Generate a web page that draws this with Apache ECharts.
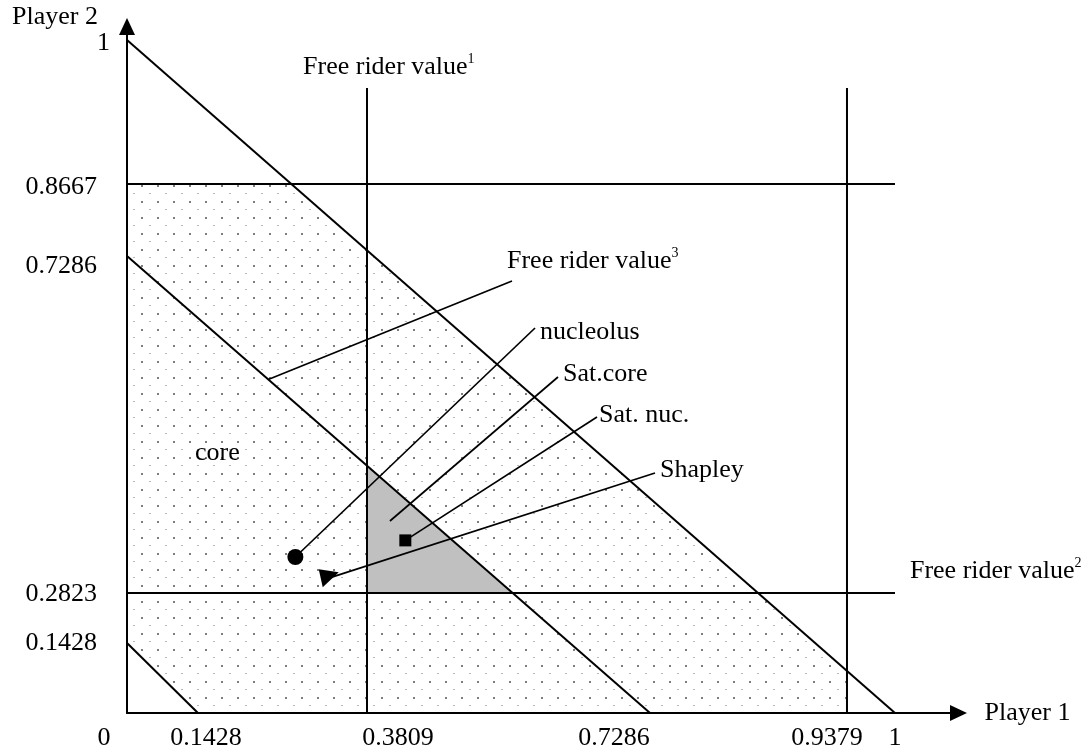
<!DOCTYPE html>
<html><head><meta charset="utf-8">
<script src="https://cdn.jsdelivr.net/npm/echarts@6/dist/echarts.min.js"></script>
<style>html,body{margin:0;padding:0;background:#fff}#c{width:1092px;height:753px}</style>
</head><body><div id="c"></div>
<script>
// ---------------- DATA (game values) ----------------
const xTicks = [0, 0.1428, 0.3809, 0.7286, 0.9379, 1];
const xTickLabels = ['0', '0.1428', '0.3809', '0.7286', '0.9379', '1'];
const yTicks = [0, 0.1428, 0.2823, 0.7286, 0.8667, 1];
const yTickLabels = ['', '0.1428', '0.2823', '0.7286', '0.8667', '1'];
const freeRider1 = 0.3809;     // x = 0.3809  (Free rider value 1)
const freeRider2 = 0.2823;     // y = 0.2823  (Free rider value 2)
const freeRider3 = 0.7286;     // x + y = 0.7286 (Free rider value 3)
const efficiency = 1;          // x + y = 1
const lowerSum = 0.1428;       // x + y = 0.1428
const upperX = 0.9379;         // x = 0.9379
const upperY = 0.8667;         // y = 0.8667
const nucleolus = [0.28, 0.33];
const satNucleolus = [0.428, 0.352];
const shapley = [0.327, 0.302];

// ---------------- LAYOUT (schematic, not-to-scale axis positions) ----------------
const X_POS = [0, 0.0924, 0.3125, 0.681, 0.9375, 1];
const Y_POS = [0, 0.104, 0.1783, 0.679, 0.786, 1];
const VTOP = 0.9287;            // top of the vertical free-rider lines (schematic)
const XMAX = 1.0827, YMAX = 1.0201;
const FONT = 'Liberation Serif';

function interp(ks, ps, v) {
  for (let i = 0; i < ks.length - 1; i++) {
    if (v <= ks[i + 1] || i === ks.length - 2) {
      const t = (v - ks[i]) / (ks[i + 1] - ks[i]);
      return ps[i] + t * (ps[i + 1] - ps[i]);
    }
  }
}
const sx = v => interp(xTicks, X_POS, v);
const sy = v => interp(yTicks, Y_POS, v);
const S = p => [sx(p[0]), sy(p[1])];
function cross(a, b) {
  const [p1, p2] = a, [p3, p4] = b;
  const d = (p1[0] - p2[0]) * (p3[1] - p4[1]) - (p1[1] - p2[1]) * (p3[0] - p4[0]);
  const t = ((p1[0] - p3[0]) * (p3[1] - p4[1]) - (p1[1] - p3[1]) * (p3[0] - p4[0])) / d;
  return [p1[0] + t * (p2[0] - p1[0]), p1[1] + t * (p2[1] - p1[1])];
}
const lerp = (seg, t) => [seg[0][0] + t * (seg[1][0] - seg[0][0]), seg[0][1] + t * (seg[1][1] - seg[0][1])];

// lines (schematic coordinates, built from the real values)
const Ldiag = [S([0, efficiency]), S([efficiency, 0])];
const L3 = [S([0, freeRider3]), S([freeRider3, 0])];
const Llow = [S([0, lowerSum]), S([lowerSum, 0])];
const V1 = [[sx(freeRider1), 0], [sx(freeRider1), VTOP]];
const V2 = [[sx(upperX), 0], [sx(upperX), VTOP]];
const H2 = [S([0, freeRider2]), S([1, freeRider2])];
const HU = [S([0, upperY]), S([1, upperY])];

const corePoly = [S([0, lowerSum]), S([lowerSum, 0]), S([upperX, 0]), cross(V2, Ldiag), cross(HU, Ldiag), S([0, upperY])];
const satCorePoly = [cross(V1, H2), cross(H2, L3), cross(V1, L3)];

// dotted pattern
const tile = document.createElement('canvas');
tile.width = 16; tile.height = 16;
const tc = tile.getContext('2d');
tc.fillStyle = '#7d7d7d'; tc.fillRect(13, 9, 2, 2);
tc.fillStyle = '#b8b8b8'; tc.fillRect(5, 1, 2, 1);
const dotPattern = { image: tile, repeat: 'repeat' };

// annotations (schematic positions of leader ends / labels)
const ann = [
  { text: 'Free rider value{s|3}', from: lerp(L3, 0.27), to: [0.5013, 0.6419], at: [0.4948, 0.6716] },
  { text: 'nucleolus', from: S(nucleolus), to: [0.5313, 0.5721], at: [0.5378, 0.5661] },
  { text: 'Sat.core', from: [0.3424, 0.2853], to: [0.5612, 0.4993], at: [0.5677, 0.5037] },
  { text: 'Sat. nuc.', from: S(satNucleolus), to: [0.612, 0.4398], at: [0.6146, 0.4428] },
  { text: 'Shapley', from: S(shapley), to: [0.6875, 0.3566], at: [0.694, 0.361] },
  { text: 'core', at: [0.0885, 0.3863] },
  { text: 'Free rider value{s|1}', at: [0.2292, 0.9599] },
  { text: 'Free rider value{s|2}', at: [1.0195, 0.211] }
];

const txt = { fontFamily: FONT, fontSize: 26, color: '#000' };
const supRich = { s: { fontFamily: FONT, fontSize: 14, color: '#000', verticalAlign: 'top', lineHeight: 30 } };

// per-label offsets of tick texts (px)
const xShift = [-23, 8, 31, -36, -20, 0];
const yShift = [0, 0, 1, 10, 3.5, 3.5];
const xRich = {}, yRich = {};
xTicks.forEach((_, i) => {
  const d = xShift[i];
  xRich['t' + i] = Object.assign({}, txt, { padding: [0, d < 0 ? -2 * d : 0, 0, d > 0 ? 2 * d : 0] });
});
yTicks.forEach((_, i) => {
  yRich['t' + i] = Object.assign({}, txt, { padding: [2 * yShift[i], i === 5 ? 0 : 13, 0, 0] });
});

const lineSeries = (seg, w) => ({
  type: 'line', data: seg, symbol: 'none', silent: true, z: 3,
  lineStyle: { color: '#000', width: w, opacity: 1 }, clip: false
});
const solid = { color: '#000', opacity: 1 };

const series = [
  { type: 'custom', data: [[0, 0]], silent: true, z: 1,
    renderItem: (p, api) => ({ type: 'polygon', shape: { points: corePoly.map(q => api.coord(q)) }, style: { fill: dotPattern } }) },
  { type: 'custom', data: [[0, 0]], silent: true, z: 2,
    renderItem: (p, api) => ({ type: 'polygon', shape: { points: satCorePoly.map(q => api.coord(q)) }, style: { fill: '#c0c0c0' } }) },
  lineSeries(Ldiag, 2), lineSeries(L3, 2), lineSeries(Llow, 2),
  lineSeries(V1, 2), lineSeries(V2, 2), lineSeries(H2, 2), lineSeries(HU, 2)
];
ann.forEach(a => { if (a.from) series.push(lineSeries([a.from, a.to], 1.7)); });
series.push(
  { type: 'scatter', data: [S(nucleolus)], symbol: 'circle', symbolSize: 16, itemStyle: solid, z: 5, silent: true },
  { type: 'scatter', data: [S(satNucleolus)], symbol: 'rect', symbolSize: 12, itemStyle: solid, z: 5, silent: true },
  { type: 'scatter', data: [S(shapley)], symbol: 'path://M0,0L20,3L4,18Z', symbolSize: [20, 18], symbolKeepAspect: false, itemStyle: solid, z: 5, silent: true },
  { type: 'scatter', symbolSize: 0, z: 6, silent: true, clip: false, itemStyle: solid,
    data: ann.map(a => ({ value: a.at, name: a.text })),
    label: { show: true, position: 'right', distance: 0, formatter: p => p.name,
      fontFamily: FONT, fontSize: 26, color: '#000', lineHeight: 30, rich: supRich } }
);

const chart = echarts.init(document.getElementById('c'), null, { renderer: 'canvas' });
chart.setOption({
  animation: false,
  backgroundColor: '#fff',
  grid: { left: 127, right: 133.5, top: 26.5, bottom: 40, containLabel: false, outerBoundsMode: 'none' },
  xAxis: {
    type: 'value', min: 0, max: XMAX,
    name: 'Player 1', nameLocation: 'end', nameGap: 26,
    nameTextStyle: Object.assign({}, txt, { align: 'left', verticalAlign: 'middle' }),
    axisLine: { show: true, onZero: false, symbol: ['none', 'triangle'], symbolSize: [16, 17], lineStyle: { color: '#000', width: 2 } },
    axisTick: { show: false }, splitLine: { show: false },
    axisLabel: { customValues: X_POS, margin: 12, rich: xRich,
      formatter: v => { const i = X_POS.findIndex(q => Math.abs(q - v) < 1e-4); return i < 0 ? '' : '{t' + i + '|' + xTickLabels[i] + '}'; } }
  },
  yAxis: {
    type: 'value', min: 0, max: YMAX,
    name: 'Player 2', nameLocation: 'end', nameGap: 4,
    nameTextStyle: Object.assign({}, txt, { align: 'right', verticalAlign: 'middle', padding: [0, 29, 0, 0] }),
    axisLine: { show: true, onZero: false, symbol: ['none', 'triangle'], symbolSize: [16, 17], lineStyle: { color: '#000', width: 2 } },
    axisTick: { show: false }, splitLine: { show: false },
    axisLabel: { customValues: Y_POS, margin: 17, rich: yRich,
      formatter: v => { const i = Y_POS.findIndex(q => Math.abs(q - v) < 1e-4); return (i < 0 || !yTickLabels[i]) ? '' : '{t' + i + '|' + yTickLabels[i] + '}'; } }
  },
  series
});
</script></body></html>
